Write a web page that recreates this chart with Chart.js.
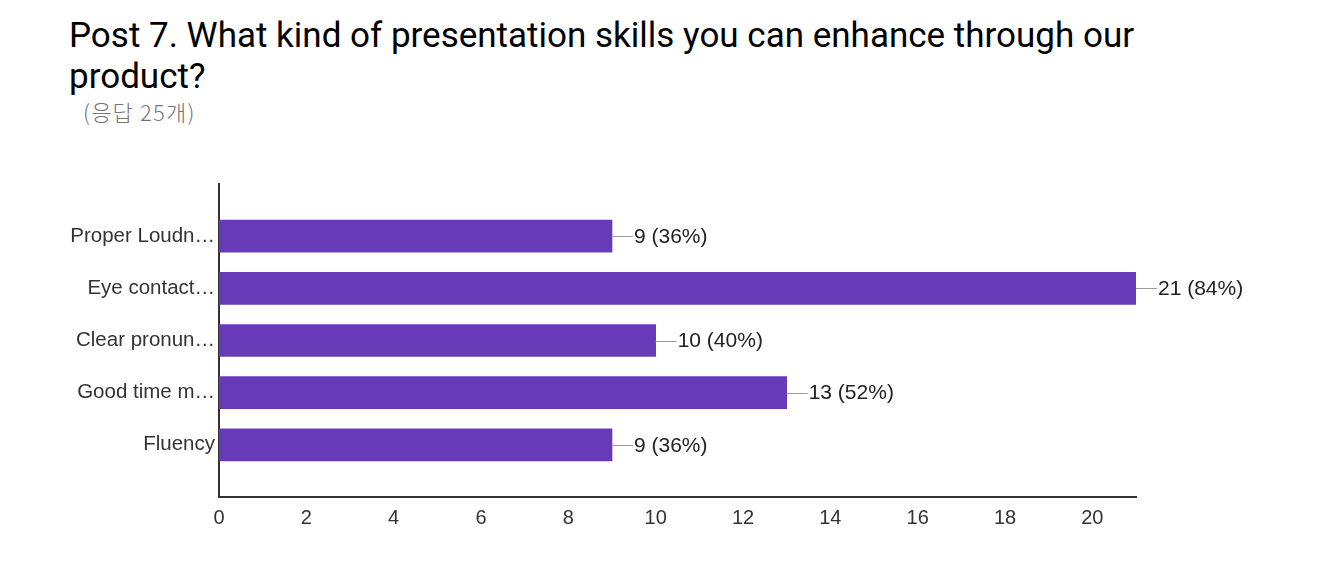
<!DOCTYPE html>
<html>
<head>
<meta charset="utf-8">
<script src="https://cdn.jsdelivr.net/npm/chart.js@4.4.0/dist/chart.umd.min.js"></script>
<style>
  html, body { margin: 0; padding: 0; background: #fff; }
  #wrap { position: relative; width: 1334px; height: 581px; }
  #title { position: absolute; left: 69px; top: 15px; width: 1120px; font-family: Roboto, sans-serif; font-size: 35px; line-height: 41px; color: #000; }
  #sub { position: absolute; left: 83px; top: 95px; font-family: "Noto Sans CJK KR", Roboto, sans-serif; font-size: 22px; font-weight: 300; color: #757575; letter-spacing: 1.2px; }
  canvas { position: absolute; left: 0; top: 0; }
</style>
</head>
<body>
<div id="wrap">
  <div id="title">Post 7. What kind of presentation skills you can enhance through our product?</div>
  <div id="sub">(응답 25개)</div>
  <canvas id="chart" width="1334" height="581"></canvas>
</div>
<script>
"use strict";

var categories = ['Proper Loudn…', 'Eye contact…', 'Clear pronun…', 'Good time m…', 'Fluency'];
var counts = [9, 21, 10, 13, 9];
var percents = [36, 84, 40, 52, 36];
var xTicks = [0, 2, 4, 6, 8, 10, 12, 14, 16, 18, 20];

function $each(list, fn) {
    for (var i = 0; i < list.length; i++) fn(i, list[i]);
}

var points = [];
$each(counts, function (index, value) {
    points.push({ x: value, y: index });
});

var valueLabels = {
    id: 'valueLabels',
    afterDatasetsDraw: function (chart) {
        var ctx = chart.ctx;
        var meta = chart.getDatasetMeta(0);
        ctx.save();
        ctx.font = '21px "Liberation Sans", Arial, sans-serif';
        ctx.textBaseline = 'middle';
        ctx.textAlign = 'left';
        $each(meta.data, function (index, bar) {
            ctx.strokeStyle = '#999';
            ctx.lineWidth = 1;
            ctx.beginPath();
            ctx.moveTo(bar.x, Math.round(bar.y) + 0.5);
            ctx.lineTo(bar.x + 21, Math.round(bar.y) + 0.5);
            ctx.stroke();
            ctx.fillStyle = '#222';
            ctx.fillText(counts[index] + ' (' + percents[index] + '%)', bar.x + 22, bar.y + 1);
        });
        ctx.restore();
    }
};

const context = document.getElementById('chart');
const myChart = new Chart(context, {
    type: 'bar',
    data: {
        datasets: [{
            data: points,
            backgroundColor: '#673ab7',
            borderWidth: 0,
            barThickness: 32
        }]
    },
    options: {
        responsive: false,
        animation: false,
        indexAxis: 'y',
        layout: { padding: { top: 184, right: 198, bottom: 44, left: 0 } },
        plugins: { legend: { display: false }, tooltip: { enabled: false } },
        scales: {
            x: {
                type: 'linear',
                min: 0,
                max: 21,
                grid: { display: false },
                border: { display: true, color: '#333', width: 2 },
                afterBuildTicks: function (scale) {
                    scale.ticks = xTicks.map(function (v) { return { value: v }; });
                },
                afterFit: function (scale) { scale.height = 40; },
                ticks: {
                    color: '#333',
                    padding: 1,
                    maxRotation: 0,
                    autoSkip: false,
                    font: { family: '"Liberation Sans", Arial, sans-serif', size: 20 }
                }
            },
            y: {
                type: 'linear',
                offset: false,
                min: -1,
                max: 5,
                reverse: true,
                grid: { display: false },
                border: { display: true, color: '#333', width: 2 },
                afterBuildTicks: function (scale) {
                    scale.ticks = categories.map(function (c, i) { return { value: i }; });
                },
                afterFit: function (scale) { scale.width = 219; },
                ticks: {
                    color: '#333',
                    padding: -4,
                    autoSkip: false,
                    font: { family: '"Liberation Sans", Arial, sans-serif', size: 20.5 },
                    callback: function (value) { return categories[value]; }
                }
            }
        }
    },
    plugins: [valueLabels]
});
</script>
</body>
</html>
